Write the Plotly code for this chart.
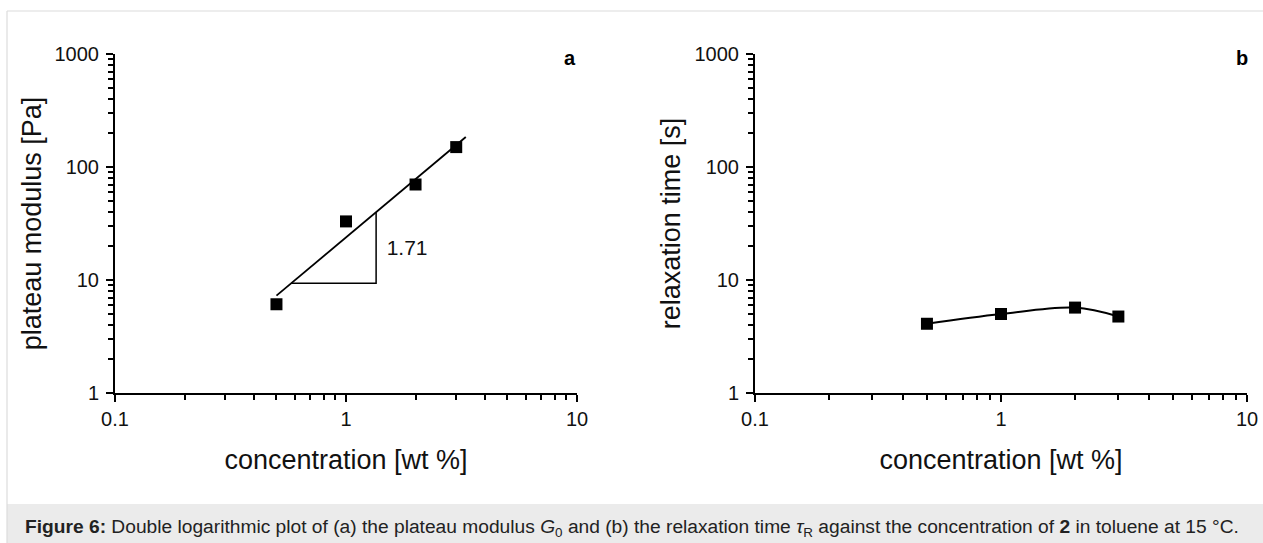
import numpy as np
import plotly.graph_objects as go

# ---------------- data ----------------
conc = [0.5, 1, 2, 3]                     # wt %
plateau_modulus = [6.1, 33, 70, 150]      # Pa
relaxation_time = [4.1, 5.0, 5.7, 4.75]   # s
fit_x_range = [0.5, 3.3]                  # extent of the power-law fit line
triangle_x = [0.58, 1.35]                 # slope triangle corners (x)
slope_label = "1.71"
slope_label_pos = [1.5, 18.5]
x_tickvals = [0.1, 1, 10]
x_ticktext = ["0.1", "1", "10"]
y_tickvals = [1, 10, 100, 1000]
y_ticktext = ["1", "10", "100", "1000"]

W, H = 1263, 543
FONT = "Liberation Sans, Arial, sans-serif"
TXT = "#111111"

# power-law fit (log-log regression)
slope, intercept = np.polyfit(np.log10(conc), np.log10(plateau_modulus), 1)
fit = lambda x: 10 ** (intercept + slope * np.log10(np.asarray(x, dtype=float)))
fit_x = np.array(fit_x_range)
tri_x = [triangle_x[0], triangle_x[1], triangle_x[1]]
tri_y = [float(fit(triangle_x[0])), float(fit(triangle_x[0])), float(fit(triangle_x[1]))]

fig = go.Figure()

# panel a
fig.add_trace(go.Scatter(x=fit_x, y=fit(fit_x), mode="lines",
                         line=dict(color="black", width=1.8), xaxis="x", yaxis="y",
                         showlegend=False, hoverinfo="skip"))
fig.add_trace(go.Scatter(x=tri_x, y=tri_y, mode="lines",
                         line=dict(color="black", width=1.5), xaxis="x", yaxis="y",
                         showlegend=False, hoverinfo="skip"))
fig.add_trace(go.Scatter(x=conc, y=plateau_modulus, mode="markers",
                         marker=dict(symbol="square", size=12, color="black"),
                         xaxis="x", yaxis="y", showlegend=False))
fig.add_trace(go.Scatter(x=[slope_label_pos[0]], y=[slope_label_pos[1]], mode="text",
                         text=[slope_label], textposition="middle right",
                         textfont=dict(family=FONT, size=21, color=TXT),
                         xaxis="x", yaxis="y", showlegend=False, hoverinfo="skip"))

# panel b
fig.add_trace(go.Scatter(x=conc, y=relaxation_time, mode="lines+markers",
                         line=dict(color="black", width=2, shape="spline"),
                         marker=dict(symbol="square", size=12, color="black"),
                         xaxis="x2", yaxis="y2", showlegend=False))

minor_x = [m * 10.0 ** e for e in (-1, 0) for m in range(2, 10)]
minor_y = [m * 10.0 ** e for e in (0, 1, 2) for m in range(2, 10)]

def xax(domain, anchor):
    return dict(domain=domain, anchor=anchor, type="log", range=[-1, 1],
                tickvals=x_tickvals, ticktext=x_ticktext,
                ticks="outside", ticklen=7, tickwidth=1.5, tickcolor="black",
                minor=dict(tickvals=minor_x, ticks="outside", ticklen=5,
                           tickwidth=1.5, tickcolor="black", showgrid=False),
                showline=True, linecolor="black", linewidth=2,
                showgrid=False, zeroline=False, automargin=False,
                tickfont=dict(family=FONT, size=20, color=TXT),
                title=dict(text="concentration [wt %]",
                           font=dict(family=FONT, size=27, color=TXT),
                           standoff=21))

def yax(domain, anchor, title, standoff):
    return dict(domain=domain, anchor=anchor, type="log", range=[0, 3],
                tickvals=y_tickvals, ticktext=y_ticktext,
                ticks="outside", ticklen=7, tickwidth=1.5, tickcolor="black",
                ticklabelstandoff=3,
                minor=dict(tickvals=minor_y, ticks="outside", ticklen=5,
                           tickwidth=1.5, tickcolor="black", showgrid=False),
                showline=True, linecolor="black", linewidth=2,
                showgrid=False, zeroline=False, automargin=False,
                tickfont=dict(family=FONT, size=20, color=TXT),
                title=dict(text=title, font=dict(family=FONT, size=27, color=TXT),
                           standoff=standoff))

ydom = [1 - 393 / H, 1 - 54 / H]
xdom1 = [115 / W, 577 / W]
xdom2 = [755 / W, 1247 / W]

caption = ("<b>Figure 6:</b> Double logarithmic plot of (a) the plateau modulus "
           "<i>G</i><sub>0</sub> and (b) the relaxation time <i>τ</i><sub>R</sub> "
           "against the concentration of <b>2</b> in toluene at 15 °C.")

fig.update_layout(
    width=W, height=H, margin=dict(l=0, r=0, t=0, b=0),
    paper_bgcolor="white", plot_bgcolor="white", template="none",
    xaxis=xax(xdom1, "y"), yaxis=yax(ydom, "x", "plateau modulus [Pa]", 5),
    xaxis2=xax(xdom2, "y2"), yaxis2=yax(ydom, "x2", "relaxation time [s]", 6),
    shapes=[
        dict(type="rect", xref="paper", yref="paper", x0=7 / W, x1=1, y0=0, y1=1 - 504 / H,
             fillcolor="#ebebeb", line=dict(width=0), layer="below"),
        dict(type="line", xref="paper", yref="paper", x0=7 / W, x1=7 / W, y0=0, y1=1 - 11 / H,
             line=dict(color="#dcdcdc", width=1.2)),
        dict(type="line", xref="paper", yref="paper", x0=7 / W, x1=1, y0=1 - 11 / H, y1=1 - 11 / H,
             line=dict(color="#dcdcdc", width=1.2)),
    ],
    annotations=[
        dict(text="<b>a</b>", xref="paper", yref="paper", x=570 / W, y=1 - 58 / H,
             showarrow=False, font=dict(family=FONT, size=20, color="black"),
             xanchor="center", yanchor="middle"),
        dict(text="<b>b</b>", xref="paper", yref="paper", x=1242 / W, y=1 - 58 / H,
             showarrow=False, font=dict(family=FONT, size=20, color="black"),
             xanchor="center", yanchor="middle"),
        dict(text=caption, xref="paper", yref="paper", x=23 / W, y=1 - 528 / H,
             showarrow=False, font=dict(family=FONT, size=19.2, color="#222222"),
             xanchor="left", yanchor="middle"),
    ],
)

fig.write_html("out.html")
